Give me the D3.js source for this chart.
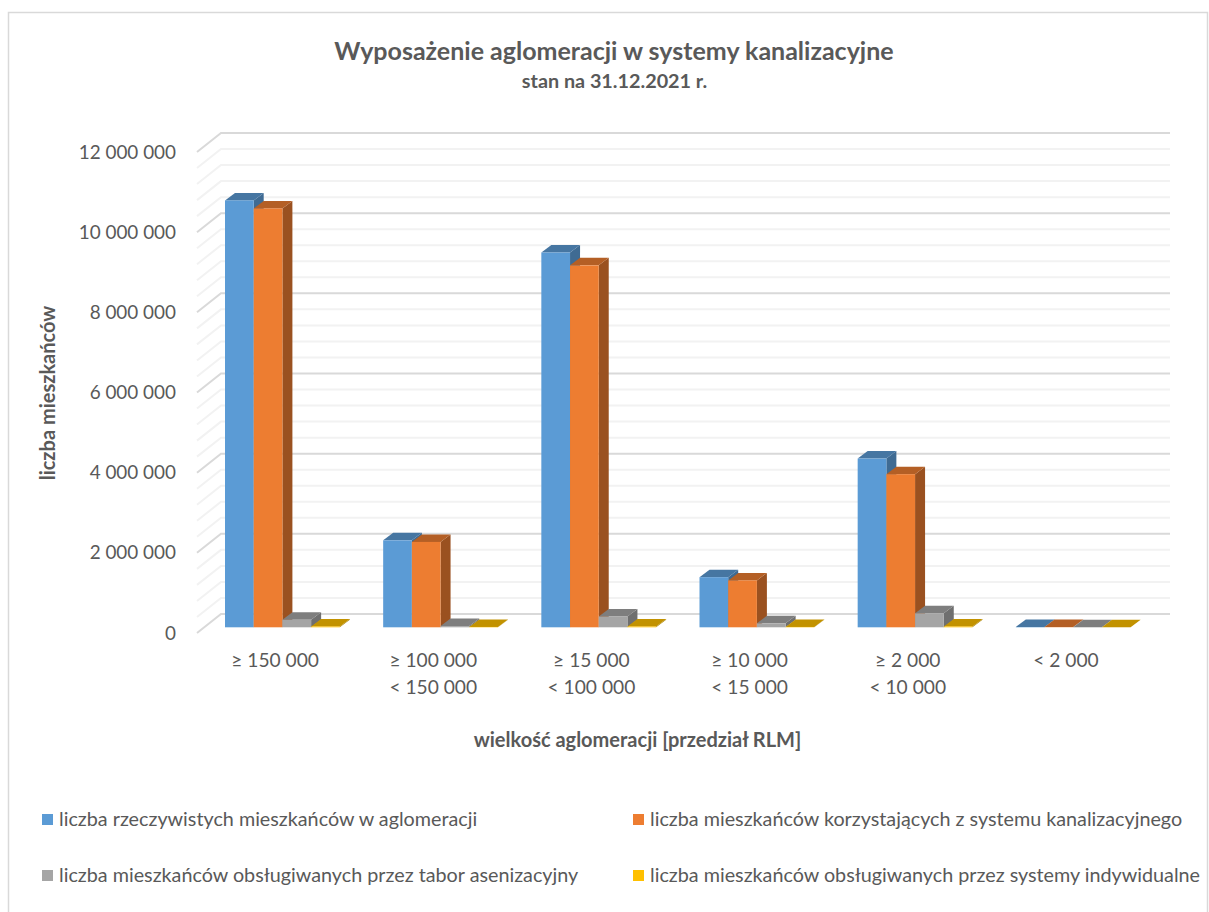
<!DOCTYPE html>
<html>
<head>
<meta charset="utf-8">
<title>Wyposażenie aglomeracji</title>
<style>
  html,body{margin:0;background:#fff;}
  svg{display:block;}
  text{font-family:Lato,sans-serif;fill:#595959;}
  .domain{display:none;}
</style>
<script src="https://d3js.org/d3.v7.min.js"></script>
</head>
<body>
<script>
var categories = [["≥ 150 000"], ["≥ 100 000", "< 150 000"], ["≥ 15 000", "< 100 000"], ["≥ 10 000", "< 15 000"], ["≥ 2 000", "< 10 000"], ["< 2 000"]];
var seriesNames = ["liczba rzeczywistych mieszkańców w aglomeracji", "liczba mieszkańców korzystających z systemu kanalizacyjnego", "liczba mieszkańców obsługiwanych przez tabor asenizacyjny", "liczba mieszkańców obsługiwanych przez systemy indywidualne"];
var rzeczywisci = [10650000, 2170000, 9350000, 1250000, 4210000, 8000];
var kanalizacja = [10450000, 2130000, 9030000, 1170000, 3820000, 6000];
var tabor = [190000, 30000, 270000, 100000, 350000, 1000];
var indywidualne = [20000, 10000, 20000, 10000, 20000, 1000];
var series = [rzeczywisci, kanalizacja, tabor, indywidualne];
var yTicks = [0, 2000000, 4000000, 6000000, 8000000, 10000000, 12000000];
var yMinor = d3.range(0, 12000001, 400000);

var colors = ["#5b9bd5", "#ed7d31", "#a5a5a5", "#ffc000"];
var topColors = ["#4676a2", "#b45f25", "#7e7e7e", "#c29200"];
var sideColors = ["#3f6b93", "#9a5120", "#6f6f6f", "#a87f00"];

var width = 1209, height = 912;
var wallDx = 24, wallDy = -19;   // glebokosc sciany bocznej
var barDx = 10, barDy = -7.5;    // glebokosc slupka
var offX = 7, offY = -5.7;       // slupek stoi w srodku glebokosci
var barW = 28.7;

var svg = d3.select("body").append("svg").attr("width", width).attr("height", height);

// ramka wykresu
svg.append("path").attr("d", "M8.5,912V12.5H1207.5V912").attr("fill", "none").attr("stroke", "#d9d9d9").attr("stroke-width", 1.5);

var x = d3.scaleBand().domain(d3.range(categories.length)).range([197, 1146]);
var y = d3.scaleLinear().domain([0, 12000000]).range([633, 152]);

// siatka: linie drobne, potem glowne
function grid(values, color) {
  svg.append("g").selectAll("path").data(values).enter().append("path")
    .attr("d", function(d) {
      return "M" + x.range()[0] + "," + y(d) + "L" + (x.range()[0] + wallDx) + "," + (y(d) + wallDy) +
             "H" + (x.range()[1] + wallDx);
    })
    .attr("fill", "none").attr("stroke", color).attr("stroke-width", 2);
}
grid(yMinor.filter(function(d) { return yTicks.indexOf(d) < 0; }), "#f2f2f2");
grid(yTicks, "#d9d9d9");

// slupki
categories.forEach(function(c, i) {
  var g = svg.append("g");
  series.forEach(function(vals, s) {
    var x0 = x(i) + 21 + offX + s * barW, x1 = x0 + barW;
    var base = y(0) + offY, top = y(vals[i]) + offY;
    g.append("path")
      .attr("d", "M" + x1 + "," + base + "L" + (x1 + barDx) + "," + (base + barDy) + "V" + (top + barDy) + "L" + x1 + "," + top + "Z")
      .attr("fill", sideColors[s]);
    g.append("path")
      .attr("d", "M" + x0 + "," + top + "L" + (x0 + barDx) + "," + (top + barDy) + "H" + (x1 + barDx) + "L" + x1 + "," + top + "Z")
      .attr("fill", topColors[s]);
    g.append("rect")
      .attr("x", x0).attr("y", top).attr("width", barW).attr("height", base - top)
      .attr("fill", colors[s]);
  });
});

// os Y
var fmt = d3.formatLocale({decimal: ",", thousands: " ", grouping: [3], currency: ["", ""]}).format(",d");
var yAxis = svg.append("g").attr("transform", "translate(180,0)")
  .call(d3.axisLeft(y).tickValues(yTicks).tickFormat(fmt).tickSize(0).tickPadding(4));
yAxis.selectAll("text").style("font-size", "18.9px").style("font-family", "Lato,sans-serif").style("fill", "#595959");

// etykiety kategorii
var catLabels = svg.append("g").selectAll("text").data(categories).enter().append("text")
  .attr("text-anchor", "middle").style("font-size", "19.2px")
  .attr("transform", function(d, i) { return "translate(" + (x(i) + x.bandwidth() / 2 - 1) + ",667)"; });
catLabels.selectAll("tspan").data(function(d) { return d; }).enter().append("tspan")
  .attr("x", 0).attr("y", function(d, i) { return i * 27; }).text(function(d) { return d; });

// tytuly
svg.append("text").attr("x", 614).attr("y", 60).attr("text-anchor", "middle")
  .style("font-size", "25px").style("font-weight", "bold").text("Wyposażenie aglomeracji w systemy kanalizacyjne");
svg.append("text").attr("x", 614.5).attr("y", 88).attr("text-anchor", "middle")
  .style("font-size", "19.8px").style("font-weight", "bold").text("stan na 31.12.2021 r.");
svg.append("text").attr("x", 637.5).attr("y", 747).attr("text-anchor", "middle")
  .style("font-size", "20px").style("font-weight", "bold").text("wielkość aglomeracji [przedział RLM]");
svg.append("text").attr("transform", "translate(55,393) rotate(-90)").attr("text-anchor", "middle")
  .style("font-size", "20px").style("font-weight", "bold").text("liczba mieszkańców");

// legenda
var legendX = [42, 633], legendY = [820, 876];
var legend = svg.append("g").selectAll("g").data(seriesNames).enter().append("g")
  .attr("transform", function(d, i) { return "translate(" + legendX[i % 2] + "," + legendY[Math.floor(i / 2)] + ")"; });
legend.append("rect").attr("y", -6).attr("width", 11).attr("height", 11).attr("fill", function(d, i) { return colors[i]; });
legend.append("text").attr("x", 17).attr("y", 6).style("font-size", "19.75px").text(function(d) { return d; });
</script>
</body>
</html>
